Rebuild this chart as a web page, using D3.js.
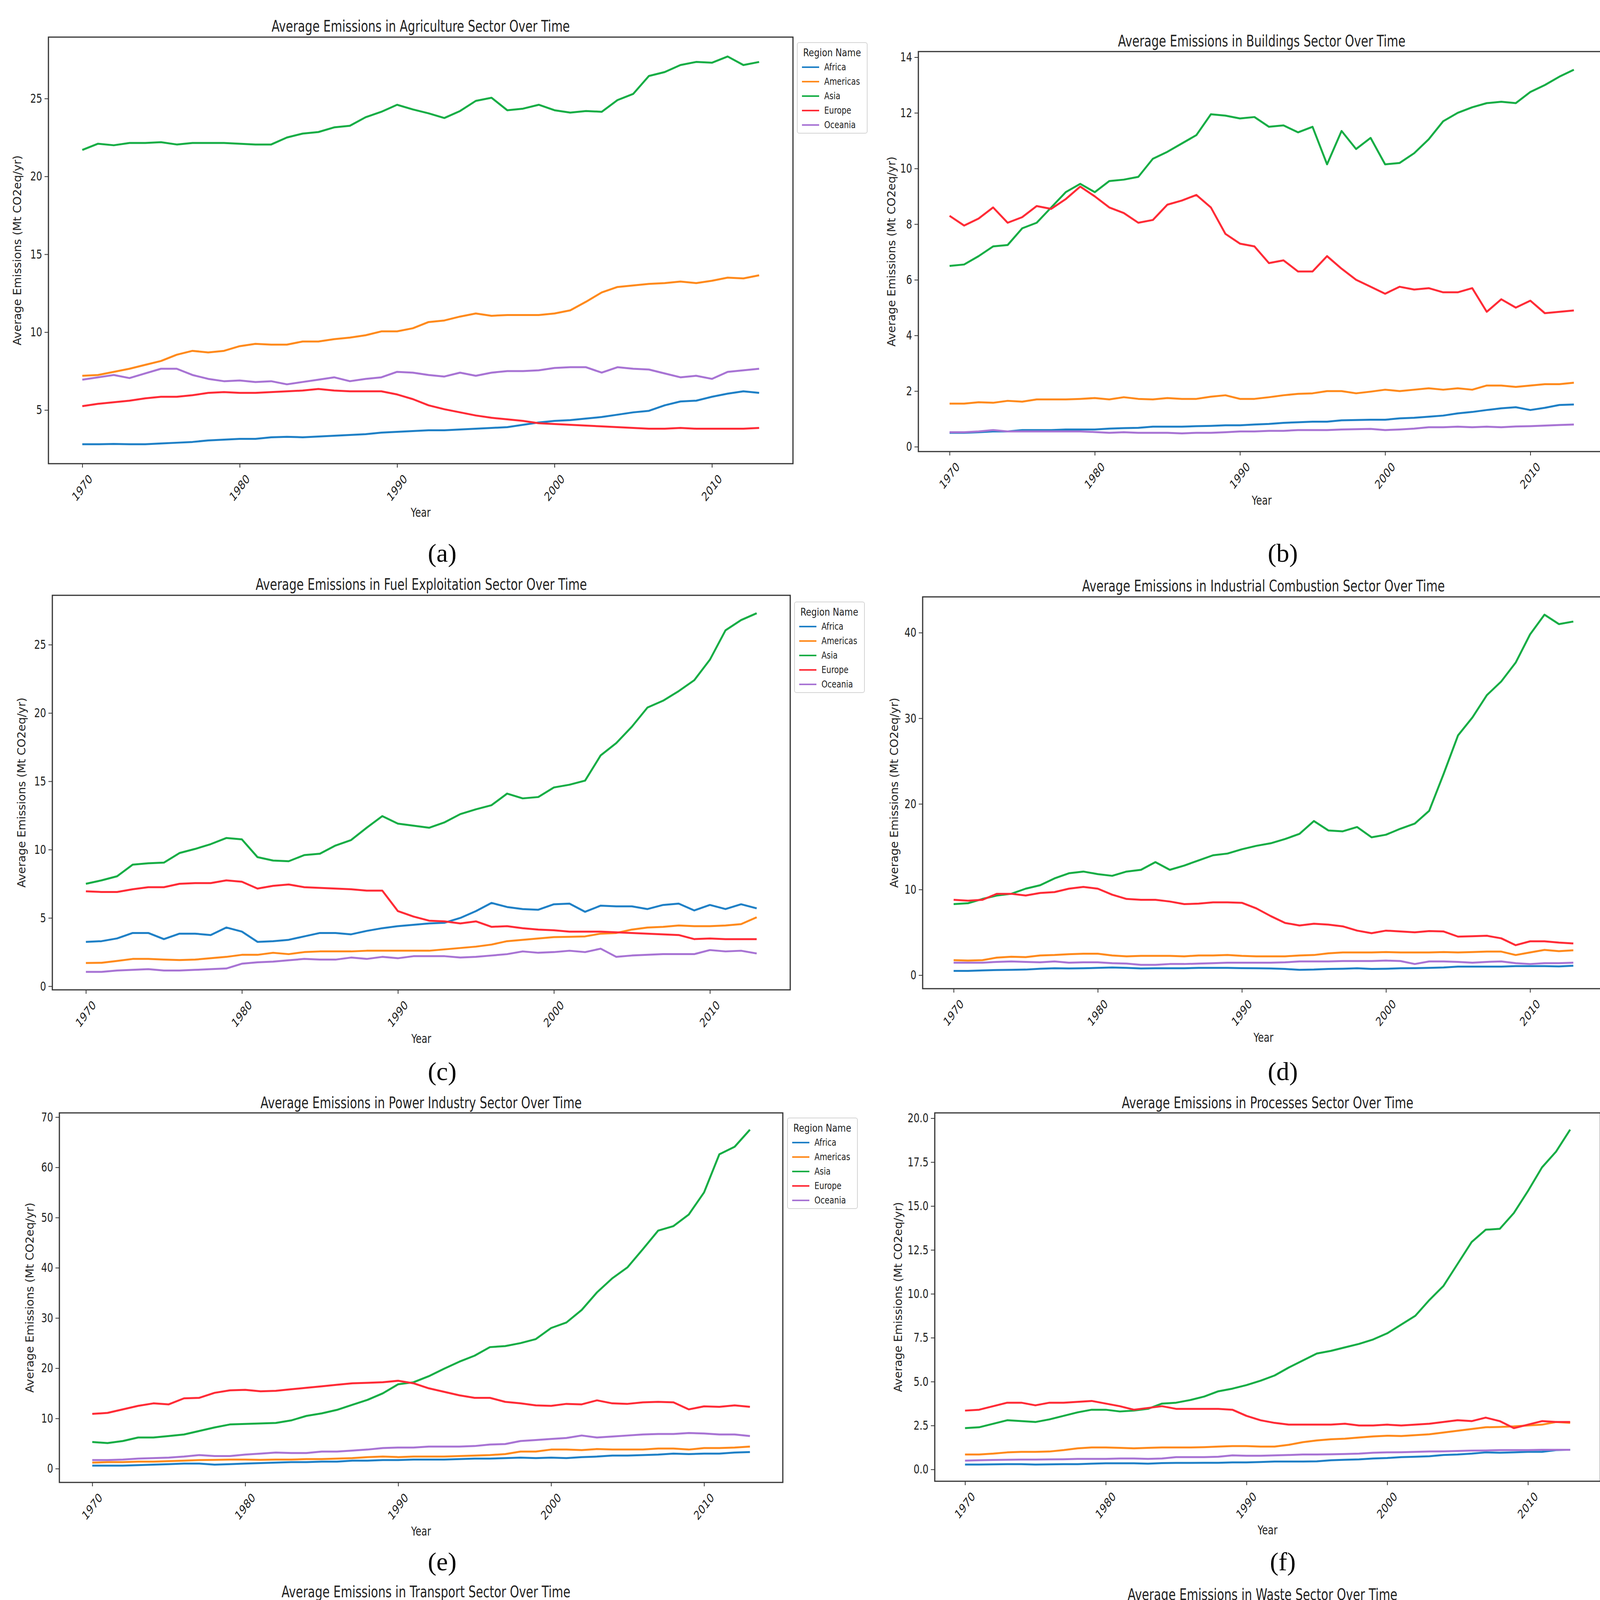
<!DOCTYPE html>
<html>
<head>
<meta charset="utf-8">
<script src="https://cdn.jsdelivr.net/npm/d3@7"></script>
<style>
  body { margin: 0; background: #fff; }
  text { font-family: "DejaVu Sans", sans-serif; fill: #222; }
  text.plabel { font-family: "Liberation Serif", "DejaVu Serif", serif; fill: #000; }
</style>
</head>
<body>
<div class="visHolder"></div>
<script>
// ---- data ----
const years = d3.range(1970, 2014);
const regions = ["Africa", "Americas", "Asia", "Europe", "Oceania"];
const colors = ["#1f80c6", "#ff8a1c", "#16ad45", "#ff2b36", "#a874d4"];

// each sector: [Africa, Americas, Asia, Europe, Oceania]
const agriculture = [
  [2.8,2.8,2.82,2.8,2.8,2.85,2.9,2.95,3.05,3.1,3.15,3.15,3.25,3.28,3.25,3.3,3.35,3.4,3.45,3.55,3.6,3.65,3.7,3.7,3.75,3.8,3.85,3.9,4.05,4.2,4.3,4.35,4.45,4.55,4.7,4.85,4.95,5.3,5.55,5.6,5.85,6.05,6.2,6.1],
  [7.2,7.25,7.45,7.65,7.9,8.15,8.55,8.8,8.7,8.8,9.1,9.25,9.2,9.2,9.4,9.4,9.55,9.65,9.8,10.05,10.05,10.25,10.65,10.75,11.0,11.2,11.05,11.1,11.1,11.1,11.2,11.4,11.95,12.55,12.9,13.0,13.1,13.15,13.25,13.15,13.3,13.5,13.45,13.65],
  [21.7,22.1,22.0,22.15,22.15,22.2,22.05,22.15,22.15,22.15,22.1,22.05,22.05,22.5,22.75,22.85,23.15,23.25,23.8,24.15,24.6,24.3,24.05,23.75,24.2,24.85,25.05,24.25,24.35,24.6,24.25,24.1,24.2,24.15,24.9,25.3,26.45,26.7,27.15,27.35,27.3,27.7,27.15,27.35],
  [5.25,5.4,5.5,5.6,5.75,5.85,5.85,5.95,6.1,6.15,6.1,6.1,6.15,6.2,6.25,6.35,6.25,6.2,6.2,6.2,6.0,5.7,5.3,5.05,4.85,4.65,4.5,4.4,4.3,4.15,4.1,4.05,4.0,3.95,3.9,3.85,3.8,3.8,3.85,3.8,3.8,3.8,3.8,3.85],
  [6.95,7.1,7.25,7.05,7.35,7.65,7.65,7.25,7.0,6.85,6.9,6.8,6.85,6.65,6.8,6.95,7.1,6.85,7.0,7.1,7.45,7.4,7.25,7.15,7.4,7.2,7.4,7.5,7.5,7.55,7.7,7.75,7.75,7.4,7.75,7.65,7.6,7.35,7.1,7.2,7.0,7.45,7.55,7.65]
];
const buildings = [
  [0.5,0.5,0.52,0.55,0.55,0.6,0.6,0.6,0.62,0.62,0.62,0.65,0.67,0.68,0.72,0.72,0.72,0.74,0.75,0.77,0.77,0.8,0.82,0.86,0.88,0.9,0.9,0.95,0.96,0.97,0.97,1.02,1.04,1.08,1.12,1.2,1.25,1.32,1.38,1.42,1.32,1.4,1.5,1.52],
  [1.55,1.55,1.6,1.58,1.65,1.62,1.7,1.7,1.7,1.72,1.75,1.7,1.78,1.72,1.7,1.75,1.72,1.72,1.8,1.85,1.72,1.72,1.78,1.85,1.9,1.92,2.0,2.0,1.92,1.98,2.05,2.0,2.05,2.1,2.05,2.1,2.05,2.2,2.2,2.15,2.2,2.25,2.25,2.3],
  [6.5,6.55,6.85,7.2,7.25,7.85,8.05,8.6,9.15,9.45,9.15,9.55,9.6,9.7,10.35,10.6,10.9,11.2,11.95,11.9,11.8,11.85,11.5,11.55,11.3,11.5,10.15,11.35,10.7,11.1,10.15,10.2,10.55,11.05,11.7,12.0,12.2,12.35,12.4,12.35,12.75,13.0,13.3,13.55],
  [8.3,7.95,8.2,8.6,8.05,8.25,8.65,8.55,8.9,9.35,9.0,8.6,8.4,8.05,8.15,8.7,8.85,9.05,8.6,7.65,7.3,7.2,6.6,6.7,6.3,6.3,6.85,6.4,6.0,5.75,5.5,5.75,5.65,5.7,5.55,5.55,5.7,4.85,5.3,5.0,5.25,4.8,4.85,4.9],
  [0.52,0.52,0.55,0.6,0.55,0.55,0.55,0.55,0.55,0.55,0.53,0.5,0.52,0.5,0.5,0.5,0.48,0.5,0.5,0.52,0.55,0.55,0.57,0.57,0.6,0.6,0.6,0.62,0.63,0.64,0.6,0.62,0.65,0.7,0.7,0.72,0.7,0.72,0.7,0.73,0.74,0.76,0.78,0.8]
];
const fuelExploitation = [
  [3.25,3.3,3.5,3.9,3.9,3.45,3.85,3.85,3.75,4.3,4.0,3.25,3.3,3.4,3.65,3.9,3.9,3.8,4.05,4.25,4.4,4.5,4.6,4.65,5.0,5.5,6.1,5.8,5.65,5.6,6.0,6.05,5.45,5.9,5.85,5.85,5.65,5.95,6.05,5.55,5.95,5.65,6.0,5.7],
  [1.7,1.72,1.85,2.0,2.0,1.95,1.92,1.95,2.05,2.15,2.3,2.3,2.45,2.35,2.5,2.55,2.55,2.55,2.6,2.6,2.6,2.6,2.6,2.7,2.8,2.9,3.05,3.3,3.4,3.5,3.6,3.62,3.65,3.85,3.9,4.15,4.3,4.35,4.45,4.4,4.4,4.45,4.55,5.05],
  [7.5,7.75,8.05,8.9,9.0,9.05,9.75,10.05,10.4,10.85,10.75,9.45,9.2,9.15,9.6,9.7,10.3,10.7,11.6,12.45,11.9,11.75,11.6,12.0,12.6,12.95,13.25,14.1,13.75,13.85,14.55,14.75,15.05,16.9,17.8,19.0,20.4,20.9,21.6,22.4,23.9,26.05,26.8,27.3],
  [6.95,6.9,6.9,7.1,7.25,7.25,7.5,7.55,7.55,7.75,7.65,7.15,7.35,7.45,7.25,7.2,7.15,7.1,7.0,7.0,5.5,5.1,4.8,4.75,4.6,4.75,4.35,4.4,4.25,4.15,4.1,4.0,4.0,4.0,3.95,3.9,3.85,3.8,3.75,3.45,3.5,3.45,3.45,3.45],
  [1.05,1.05,1.15,1.2,1.25,1.15,1.15,1.2,1.25,1.3,1.65,1.75,1.8,1.9,2.0,1.95,1.95,2.1,2.0,2.15,2.05,2.2,2.2,2.2,2.1,2.15,2.25,2.35,2.55,2.45,2.5,2.6,2.5,2.75,2.15,2.25,2.3,2.35,2.35,2.35,2.65,2.55,2.6,2.4]
];
const industrialCombustion = [
  [0.5,0.5,0.55,0.6,0.62,0.65,0.75,0.8,0.78,0.8,0.85,0.9,0.85,0.78,0.8,0.8,0.8,0.85,0.85,0.85,0.82,0.8,0.78,0.72,0.62,0.65,0.72,0.75,0.8,0.72,0.75,0.8,0.82,0.85,0.9,1.0,1.0,1.0,1.0,1.05,1.05,1.05,1.02,1.1],
  [1.75,1.7,1.75,2.05,2.15,2.1,2.3,2.35,2.45,2.5,2.5,2.3,2.2,2.25,2.25,2.25,2.2,2.3,2.3,2.35,2.25,2.2,2.2,2.2,2.3,2.35,2.55,2.65,2.65,2.65,2.7,2.65,2.65,2.65,2.7,2.65,2.7,2.75,2.75,2.35,2.65,2.95,2.8,2.9],
  [8.3,8.4,8.9,9.3,9.5,10.1,10.5,11.3,11.9,12.1,11.8,11.6,12.1,12.3,13.2,12.3,12.8,13.4,14.0,14.2,14.7,15.1,15.4,15.9,16.5,18.0,16.9,16.8,17.3,16.1,16.4,17.1,17.7,19.2,23.5,28.0,30.1,32.7,34.3,36.5,39.8,42.1,41.0,41.3],
  [8.8,8.7,8.8,9.5,9.5,9.3,9.6,9.7,10.1,10.3,10.1,9.4,8.9,8.8,8.8,8.6,8.3,8.35,8.5,8.5,8.45,7.8,6.9,6.1,5.8,6.0,5.9,5.7,5.2,4.9,5.2,5.1,5.0,5.15,5.1,4.5,4.55,4.6,4.3,3.5,3.95,3.95,3.8,3.7],
  [1.45,1.45,1.45,1.55,1.6,1.55,1.5,1.6,1.45,1.5,1.5,1.4,1.35,1.2,1.2,1.3,1.3,1.35,1.4,1.45,1.45,1.45,1.45,1.5,1.6,1.6,1.6,1.65,1.65,1.65,1.7,1.65,1.3,1.6,1.6,1.55,1.45,1.55,1.6,1.4,1.3,1.4,1.4,1.45]
];
const powerIndustry = [
  [0.6,0.6,0.6,0.7,0.8,0.9,1.0,1.0,0.8,0.9,1.0,1.1,1.2,1.3,1.3,1.4,1.4,1.6,1.6,1.7,1.7,1.8,1.8,1.8,1.9,2.0,2.0,2.1,2.2,2.1,2.2,2.1,2.3,2.4,2.6,2.6,2.7,2.8,3.0,2.9,3.0,3.0,3.2,3.3],
  [1.2,1.3,1.3,1.4,1.4,1.5,1.6,1.7,1.75,1.8,1.8,1.75,1.8,1.8,1.9,1.9,2.0,2.1,2.3,2.4,2.3,2.4,2.4,2.4,2.5,2.6,2.7,2.9,3.4,3.4,3.8,3.8,3.7,3.9,3.8,3.8,3.8,4.0,4.0,3.8,4.1,4.1,4.2,4.4],
  [5.3,5.1,5.5,6.2,6.2,6.5,6.8,7.5,8.2,8.8,8.9,9.0,9.1,9.6,10.5,11.0,11.7,12.7,13.7,15.0,16.8,17.2,18.4,19.9,21.3,22.5,24.2,24.4,25.0,25.8,28.0,29.1,31.6,35.1,37.9,40.1,43.7,47.4,48.3,50.6,55.0,62.6,64.1,67.5],
  [10.9,11.1,11.8,12.5,13.0,12.8,14.0,14.1,15.1,15.6,15.7,15.4,15.5,15.8,16.1,16.4,16.7,17.0,17.1,17.2,17.5,17.0,16.0,15.3,14.6,14.1,14.1,13.3,13.0,12.6,12.5,12.9,12.8,13.6,13.0,12.9,13.2,13.3,13.2,11.8,12.4,12.3,12.6,12.3],
  [1.7,1.7,1.8,2.0,2.1,2.2,2.4,2.7,2.5,2.5,2.8,3.0,3.2,3.1,3.1,3.4,3.4,3.6,3.8,4.1,4.2,4.2,4.4,4.4,4.4,4.5,4.8,4.9,5.5,5.7,5.9,6.1,6.6,6.2,6.4,6.6,6.8,6.9,6.9,7.1,7.0,6.8,6.8,6.5]
];
const processes = [
  [0.28,0.28,0.29,0.3,0.3,0.28,0.29,0.3,0.3,0.33,0.35,0.35,0.35,0.33,0.36,0.37,0.37,0.38,0.38,0.4,0.4,0.42,0.45,0.45,0.45,0.46,0.52,0.55,0.57,0.62,0.65,0.7,0.72,0.75,0.82,0.85,0.9,0.97,0.95,0.97,1.0,1.0,1.1,1.12],
  [0.85,0.85,0.9,0.97,1.0,1.0,1.02,1.1,1.2,1.25,1.25,1.23,1.2,1.23,1.25,1.25,1.25,1.27,1.3,1.33,1.33,1.3,1.3,1.4,1.55,1.65,1.72,1.75,1.82,1.88,1.92,1.9,1.95,2.0,2.1,2.2,2.3,2.4,2.42,2.45,2.5,2.55,2.7,2.65],
  [2.35,2.4,2.6,2.8,2.75,2.7,2.85,3.05,3.25,3.4,3.4,3.3,3.35,3.45,3.75,3.8,3.95,4.15,4.45,4.6,4.8,5.05,5.35,5.8,6.2,6.6,6.75,6.95,7.15,7.4,7.75,8.25,8.75,9.65,10.45,11.7,12.95,13.65,13.7,14.6,15.85,17.2,18.1,19.35],
  [3.35,3.4,3.6,3.8,3.8,3.65,3.8,3.8,3.85,3.9,3.75,3.6,3.4,3.5,3.6,3.45,3.45,3.45,3.45,3.4,3.05,2.8,2.65,2.55,2.55,2.55,2.55,2.6,2.5,2.5,2.55,2.5,2.55,2.6,2.7,2.8,2.75,2.95,2.75,2.35,2.55,2.75,2.7,2.7],
  [0.5,0.52,0.54,0.55,0.56,0.56,0.57,0.58,0.6,0.6,0.6,0.62,0.62,0.6,0.62,0.7,0.7,0.7,0.72,0.8,0.78,0.78,0.8,0.82,0.85,0.85,0.86,0.88,0.9,0.95,0.97,0.98,1.0,1.02,1.03,1.05,1.07,1.08,1.1,1.1,1.1,1.12,1.12,1.12]
];
const transport = [
  [0.42,0.42,0.43,0.45,0.45,0.5,0.5,0.52,0.55,0.55,0.58,0.6,0.62,0.63,0.65,0.67,0.68,0.7,0.72,0.75,0.78,0.82,0.87,0.88,0.9,0.95,1.0,1.05,1.08,1.12,1.15,1.2,1.25,1.3,1.38,1.4,1.42,1.5,1.6,1.7,1.82,1.9,2.05,2.2],
  [1.95,2.0,2.15,2.35,2.45,2.55,2.65,2.75,2.9,3.1,3.2,3.25,3.1,2.95,3.05,3.05,3.15,3.25,3.35,3.45,3.5,3.6,3.7,3.8,3.95,4.1,4.35,4.55,4.7,4.7,4.65,4.65,4.8,4.9,5.0,5.1,5.25,5.5,5.65,5.5,5.8,6.05,6.25,6.45],
  [2.45,2.5,2.65,2.85,2.95,3.2,3.35,3.6,3.8,4.05,4.1,4.25,4.25,4.55,4.75,4.85,5.05,5.35,5.65,6.0,6.2,6.45,6.7,7.0,7.1,7.5,8.3,8.25,8.2,8.55,9.5,9.7,10.05,10.5,11.4,11.75,12.1,12.9,13.6,14.0,14.8,15.9,17.1,18.0],
  [3.25,3.35,3.5,3.65,3.55,3.8,3.9,4.05,4.25,4.3,4.3,4.2,4.2,4.25,4.3,4.35,4.55,4.7,4.9,5.1,5.4,5.55,5.25,5.2,5.15,5.25,5.35,5.55,5.7,5.7,5.6,5.7,5.75,5.85,6.05,6.0,6.05,6.3,6.3,6.1,6.1,6.05,5.9,5.9],
  [1.2,1.25,1.25,1.4,1.45,1.5,1.55,1.65,1.72,1.75,1.8,1.85,1.85,1.85,1.95,2.0,2.05,2.1,2.15,2.25,2.3,2.2,2.3,2.35,2.4,2.5,2.6,2.7,2.7,2.75,2.8,2.8,2.85,2.9,3.0,3.0,3.05,3.15,3.2,3.2,3.3,3.4,3.45,3.45]
];
const waste = [
  [0.6,0.65,0.67,0.7,0.72,0.74,0.76,0.8,0.83,0.87,0.9,0.93,0.96,0.99,1.03,1.06,1.1,1.13,1.17,1.21,1.25,1.28,1.31,1.34,1.38,1.42,1.46,1.5,1.54,1.58,1.62,1.66,1.71,1.76,1.83,1.88,1.9,1.95,2.0,2.06,2.12,2.18,2.27,2.34],
  [1.38,1.47,1.52,1.57,1.62,1.67,1.73,1.79,1.86,1.93,2.0,2.06,2.13,2.2,2.28,2.35,2.42,2.5,2.56,2.6,2.65,2.72,2.8,2.88,2.95,3.0,3.05,3.1,3.17,3.24,3.3,3.22,3.32,3.4,3.5,3.45,3.57,3.55,3.5,3.55,3.6,3.63,3.7,3.8],
  [3.98,4.1,4.2,4.3,4.4,4.5,4.6,4.72,4.85,4.95,5.05,5.2,5.35,5.5,5.65,5.8,5.97,6.1,6.27,6.44,6.6,6.7,6.85,7.0,7.18,7.36,7.5,7.67,7.85,8.0,8.2,8.4,8.6,8.8,9.05,9.3,9.6,9.95,10.15,10.35,10.75,11.15,11.4,11.7],
  [2.1,2.12,2.15,2.18,2.18,2.16,2.2,2.2,2.23,2.24,2.25,2.25,2.25,2.28,2.3,2.3,2.3,2.3,2.32,2.3,2.38,2.45,2.45,2.47,2.47,2.38,2.38,2.36,2.32,2.34,2.3,2.28,2.26,2.25,2.24,2.15,2.18,2.08,2.02,1.96,1.92,1.88,1.86,1.81],
  [0.78,0.8,0.82,0.83,0.84,0.86,0.88,0.89,0.9,0.91,0.92,0.94,0.95,0.97,0.99,1.0,1.02,1.04,1.05,1.06,1.08,1.09,1.09,1.1,1.07,1.09,1.02,1.01,0.99,1.0,0.99,0.98,0.99,0.94,0.93,0.93,0.92,0.93,0.95,0.95,0.97,0.95,0.88,0.88]
];

const sectorNames = ["Agriculture", "Buildings", "Fuel Exploitation", "Industrial Combustion",
                     "Power Industry", "Processes", "Transport", "Waste"];
const sectorData = [agriculture, buildings, fuelExploitation, industrialCombustion,
                    powerIndustry, processes, transport, waste];
const yTicks = [
  [5, 10, 15, 20, 25],
  [0, 2, 4, 6, 8, 10, 12, 14],
  [0, 5, 10, 15, 20, 25],
  [0, 10, 20, 30, 40],
  [0, 10, 20, 30, 40, 50, 60, 70],
  [0, 2.5, 5, 7.5, 10, 12.5, 15, 17.5, 20],
  [0, 2.5, 5, 7.5, 10, 12.5, 15, 17.5],
  [2, 4, 6, 8, 10, 12]
];
const yFormats = ["d", "d", "d", "d", "d", ".1f", ".1f", "d"];
const xTicks = [1970, 1980, 1990, 2000, 2010];
const panelLabels = ["(a)", "(b)", "(c)", "(d)", "(e)", "(f)", "(g)", "(h)"];

// ---- layout (pixel boxes of each panel) ----
const boxes = [
  { l: 124, r: 2030, t: 95, b: 1187, title: 67, lgx: 2041, lgy: 109, lab: 1415, ylab: 44 },
  { l: 2351, r: 4109, t: 132, b: 1156, title: 105, lgx: 4120, lgy: 145, lab: 1415, ylab: 2282 },
  { l: 134, r: 2023, t: 1524, b: 2534, title: 1496, lgx: 2034, lgy: 1541, lab: 2742, ylab: 55 },
  { l: 2362, r: 4107, t: 1528, b: 2531, title: 1500, lgx: 4115, lgy: 1540, lab: 2742, ylab: 2289 },
  { l: 152, r: 2004, t: 2849, b: 3795, title: 2823, lgx: 2016, lgy: 2862, lab: 3997, ylab: 76 },
  { l: 2393, r: 4097, t: 2849, b: 3792, title: 2823, lgx: 4108, lgy: 2862, lab: 3997, ylab: 2299 },
  { l: 177, r: 2004, t: 4101, b: 5061, title: 4075, lgx: 2016, lgy: 4115, lab: 5268, ylab: 76 },
  { l: 2375, r: 4089, t: 4109, b: 5055, title: 4082, lgx: 4100, lgy: 4121, lab: 5268, ylab: 2306 }
];
const SQ = 0.75; // horizontal squeeze of the reference's text

let svg = d3.select(".visHolder").append("svg")
  .attr("width", 4329).attr("height", 5350);

svg.append("defs").append("clipPath").attr("id", "leftClip")
  .append("rect").attr("x", 0).attr("y", 0).attr("width", 2232).attr("height", 5350);

function squeezed(g, x, y, str, size, rot) {
  return g.append("text")
    .attr("transform", "translate(" + x + "," + y + ") scale(" + SQ + ",1)" + (rot ? " rotate(" + rot + ")" : ""))
    .attr("font-size", size)
    .attr("dominant-baseline", "central")
    .attr("text-anchor", "middle")
    .text(str);
}

sectorData.forEach(function (series, k) {
  let bx = boxes[k];
  let g = svg.append("g");
  if (k % 2 === 0) g.attr("clip-path", "url(#leftClip)");

  let all = series.flat();
  let lo = d3.min(all), hi = d3.max(all), pad = (hi - lo) * 0.05;

  let xScale = d3.scaleLinear().domain([1970 - 43 * 0.05, 2013 + 43 * 0.05]).range([bx.l, bx.r]);
  let yScale = d3.scaleLinear().domain([lo - pad, hi + pad]).range([bx.b, bx.t]);

  // lines
  let line = d3.line().x((d, i) => xScale(years[i])).y(d => yScale(d));
  series.forEach(function (vals, r) {
    g.append("path").datum(vals)
      .attr("d", line)
      .attr("fill", "none")
      .attr("stroke", colors[r])
      .attr("stroke-width", 5)
      .attr("stroke-linejoin", "round");
  });

  // frame
  g.append("rect")
    .attr("x", bx.l).attr("y", bx.t)
    .attr("width", bx.r - bx.l).attr("height", bx.b - bx.t)
    .attr("fill", "none").attr("stroke", "#333").attr("stroke-width", 3);

  // x axis
  let xAxis = g.append("g")
    .attr("transform", "translate(0," + bx.b + ")")
    .call(d3.axisBottom(xScale).tickValues(xTicks).tickSize(10).tickFormat(""));
  xAxis.select(".domain").remove();
  xAxis.selectAll("line").attr("stroke", "#333").attr("stroke-width", 2);
  xTicks.forEach(function (t) {
    squeezed(g, xScale(t), bx.b + 62, String(t), 32, -45);
  });
  squeezed(g, (bx.l + bx.r) / 2, bx.b + 125, "Year", 32);

  // y axis
  let fmt = d3.format(yFormats[k]);
  let yAxis = g.append("g")
    .attr("transform", "translate(" + bx.l + ",0)")
    .call(d3.axisLeft(yScale).tickValues(yTicks[k]).tickSize(10).tickFormat(""));
  yAxis.select(".domain").remove();
  yAxis.selectAll("line").attr("stroke", "#333").attr("stroke-width", 2);
  yTicks[k].forEach(function (t) {
    squeezed(g, bx.l - 16, yScale(t), fmt(t), 32).attr("text-anchor", "end");
  });
  g.append("text")
    .attr("transform", "translate(" + bx.ylab + "," + (bx.t + bx.b) / 2 + ") rotate(-90)")
    .attr("font-size", 29)
    .attr("text-anchor", "middle")
    .attr("dominant-baseline", "central")
    .text("Average Emissions (Mt CO2eq/yr)");

  // title
  squeezed(g, (bx.l + bx.r) / 2, bx.title, "Average Emissions in " + sectorNames[k] + " Sector Over Time", 40);

  // legend
  let lg = g.append("g").attr("transform", "translate(" + bx.lgx + "," + bx.lgy + ")");
  lg.append("rect").attr("width", 179).attr("height", 232).attr("rx", 5)
    .attr("fill", "#fff").attr("stroke", "#d4d4d4").attr("stroke-width", 2);
  lg.append("text")
    .attr("transform", "translate(89,26) scale(0.82,1)")
    .attr("font-size", 27).attr("text-anchor", "middle").attr("dominant-baseline", "central")
    .text("Region Name");
  regions.forEach(function (name, r) {
    let yy = 63 + r * 37;
    lg.append("line").attr("x1", 12).attr("x2", 56).attr("y1", yy).attr("y2", yy)
      .attr("stroke", colors[r]).attr("stroke-width", 4);
    lg.append("text")
      .attr("transform", "translate(69," + yy + ") scale(0.82,1)")
      .attr("font-size", 24).attr("dominant-baseline", "central")
      .text(name);
  });

  // panel label
  svg.append("text")
    .attr("class", "plabel")
    .attr("x", k % 2 === 0 ? 1132 : 3284).attr("y", bx.lab)
    .attr("font-size", 66)
    .attr("text-anchor", "middle").attr("dominant-baseline", "central")
    .text(panelLabels[k]);
});
</script>
</body>
</html>
